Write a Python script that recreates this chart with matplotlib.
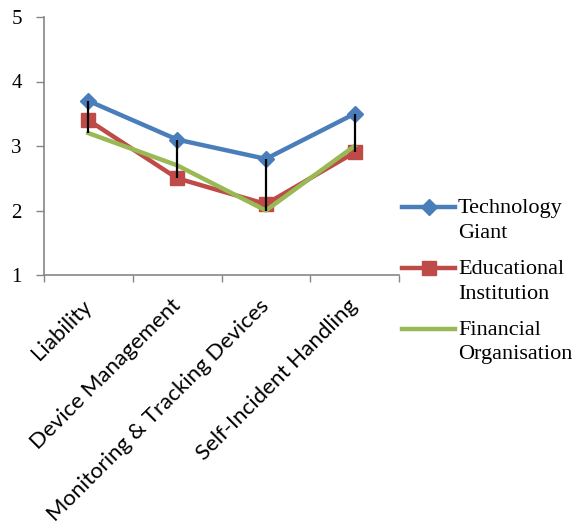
import numpy as np
import matplotlib
matplotlib.use('Agg')
import matplotlib.pyplot as plt
from matplotlib.lines import Line2D

# Data
categories = ['Liability', 'Device Management', 'Monitoring & Tracking Devices', 'Self-Incident Handling']
tech_giant = [3.7, 3.1, 2.8, 3.5]
educational = [3.4, 2.5, 2.1, 2.9]
financial = [3.2, 2.7, 2.0, 3.0]
series_names = ['Technology\nGiant', 'Educational\nInstitution', 'Financial\nOrganisation']

blue = '#4A7EBB'
red = '#BE4B48'
green = '#98B954'
grey = '#868686'

fig = plt.figure(figsize=(5.8, 5.29), dpi=100)
ax = fig.add_axes([44 / 580, 1 - 275 / 529, (399 - 44) / 580, (275 - 17) / 529])

x = np.arange(len(categories)) + 0.5

ax.plot(x, tech_giant, color=blue, lw=3.2, marker='D', ms=7.8, mfc=blue, mec=blue, zorder=3)
ax.plot(x, educational, color=red, lw=3.2, marker='s', ms=9.5, mfc=red, mec=red, zorder=3)
ax.plot(x, financial, color=green, lw=3.2, zorder=4)

# high-low lines
vals = np.array([tech_giant, educational, financial])
ax.vlines(x, vals.min(axis=0), vals.max(axis=0), color='black', lw=1.6, zorder=5)

ax.set_xlim(0, len(categories))
ax.set_ylim(1, 5)
ax.set_yticks([1, 2, 3, 4, 5])
ax.set_yticklabels(['1', '2', '3', '4', '5'], family='Liberation Serif', fontsize=15)

ax.set_xticks(np.arange(len(categories) + 1))
ax.set_xticklabels([])
ax.set_xticks(x, minor=True)
ax.set_xticklabels(categories, minor=True, rotation=45, ha='right', va='center',
                   rotation_mode='anchor', family='Lato', fontsize=16)
ax.tick_params(axis='x', which='minor', length=0, pad=20)
ax.tick_params(axis='x', which='major', length=5, width=1, color=grey, direction='out')
ax.tick_params(axis='y', length=6, width=1, color=grey, direction='out', pad=10)

for side in ['top', 'right']:
    ax.spines[side].set_visible(False)
for side in ['left', 'bottom']:
    ax.spines[side].set_color(grey)
    ax.spines[side].set_linewidth(1.2)

handles = [
    Line2D([], [], color=blue, lw=3.2, marker='D', ms=7.8),
    Line2D([], [], color=red, lw=3.2, marker='s', ms=9.5),
    Line2D([], [], color=green, lw=3.2),
]
leg = fig.legend(handles, series_names, loc='upper left', bbox_to_anchor=(402 / 580, 1 - 199 / 529),
                 frameon=False, prop={'family': 'Liberation Serif', 'size': 16},
                 handlelength=2.4, handletextpad=0.12, labelspacing=0.78, borderpad=0, borderaxespad=0)
for t in leg.get_texts():
    t.set_linespacing(1.4)
# put the handle next to the first line of each label, like Excel does
for col in leg._legend_handle_box.get_children():
    for row in col.get_children():
        row.align = 'top'

fig.savefig('out.png', dpi=100)
